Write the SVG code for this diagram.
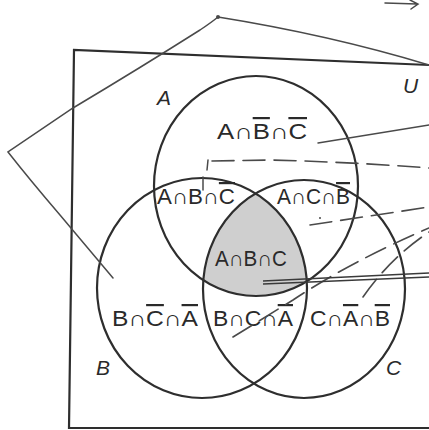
<svg xmlns="http://www.w3.org/2000/svg" width="429" height="430" viewBox="0 0 429 430">
<style>
.set{fill:none;stroke:#2e2e2e;stroke-width:2.2}
.lead{fill:none;stroke:#4a4a4a;stroke-width:1.5;stroke-linecap:round}
.dash{fill:none;stroke:#4a4a4a;stroke-width:1.6;stroke-dasharray:22 9;stroke-linecap:round}
.lbl{font-family:"Liberation Sans",Arial,sans-serif;font-size:22px;fill:#2a2a2a}
.name{font-family:"Liberation Sans",Arial,sans-serif;font-size:21px;font-style:italic;fill:#2a2a2a}
.ov{text-decoration:overline}
</style>
<defs>
<clipPath id="clipA"><ellipse cx="256" cy="186" rx="102" ry="110"/></clipPath>
<clipPath id="clipB"><ellipse cx="202" cy="288" rx="105" ry="110"/></clipPath>
</defs>
<rect width="429" height="430" fill="#ffffff"/>
<g id="universe">
<polyline class="set" points="429,65 74,50 69,428 429,428"/>
<text class="name" x="403" y="93">U</text>
</g>
<g id="shaded">
<g clip-path="url(#clipA)"><g clip-path="url(#clipB)">
<ellipse cx="304" cy="289" rx="101" ry="109" fill="#cfcfcf"/>
</g></g>
</g>
<g id="setA">
<ellipse class="set" cx="256" cy="186" rx="102" ry="110"/>
<text class="name" x="157" y="105">A</text>
</g>
<g id="setB">
<ellipse class="set" cx="202" cy="288" rx="105" ry="110"/>
<text class="name" x="96" y="375">B</text>
</g>
<g id="setC">
<ellipse class="set" cx="304" cy="289" rx="101" ry="109"/>
<text class="name" x="386" y="375">C</text>
</g>
<g id="regions">
<text class="lbl" x="217" y="139" textLength="90" lengthAdjust="spacingAndGlyphs">A∩<tspan class="ov">B</tspan>∩<tspan class="ov">C</tspan></text>
<text class="lbl" x="157" y="204" textLength="78" lengthAdjust="spacingAndGlyphs">A∩B∩<tspan class="ov">C</tspan></text>
<text class="lbl" x="277" y="204" textLength="73" lengthAdjust="spacingAndGlyphs">A∩C∩<tspan class="ov">B</tspan></text>
<text class="lbl" x="215" y="266" textLength="72" lengthAdjust="spacingAndGlyphs">A∩B∩C</text>
<text class="lbl" x="112" y="326" textLength="86" lengthAdjust="spacingAndGlyphs">B∩<tspan class="ov">C</tspan>∩<tspan class="ov">A</tspan></text>
<text class="lbl" x="213" y="326" textLength="80" lengthAdjust="spacingAndGlyphs">B∩C∩<tspan class="ov">A</tspan></text>
<text class="lbl" x="310" y="326" textLength="80" lengthAdjust="spacingAndGlyphs">C∩<tspan class="ov">A</tspan>∩<tspan class="ov">B</tspan></text>
</g>
<g id="connectors">
<path class="lead" d="M113,278 L60,215 Q30,180 8,152 L73,108 Q140,68 200,30 Q212,22 218,17 Q330,35 429,65"/>
<circle cx="218" cy="17" r="2" fill="#4a4a4a"/>
<path class="lead" d="M318,143 L429,125"/>
<path class="dash" d="M212,161 L270,160 Q350,162 429,168"/>
<path class="lead" d="M208,160 L207,170"/>
<path class="lead" d="M203,177 L203,190"/>
<path class="dash" d="M310,225 L429,207"/>
<circle cx="320" cy="218" r="1" fill="#4a4a4a"/>
<path class="dash" d="M233,337 L293,300 Q350,262 429,228"/>
<path class="dash" d="M363,297 Q390,258 429,232"/>
<path fill="none" stroke="#3a3a3a" stroke-width="1.6" d="M263,281 L429,273 M263,284 L429,277"/>
<path class="lead" stroke="#9a9a9a" d="M385,3 L417,4 M410,0 L418,4 L411,9"/>
</g>
</svg>
